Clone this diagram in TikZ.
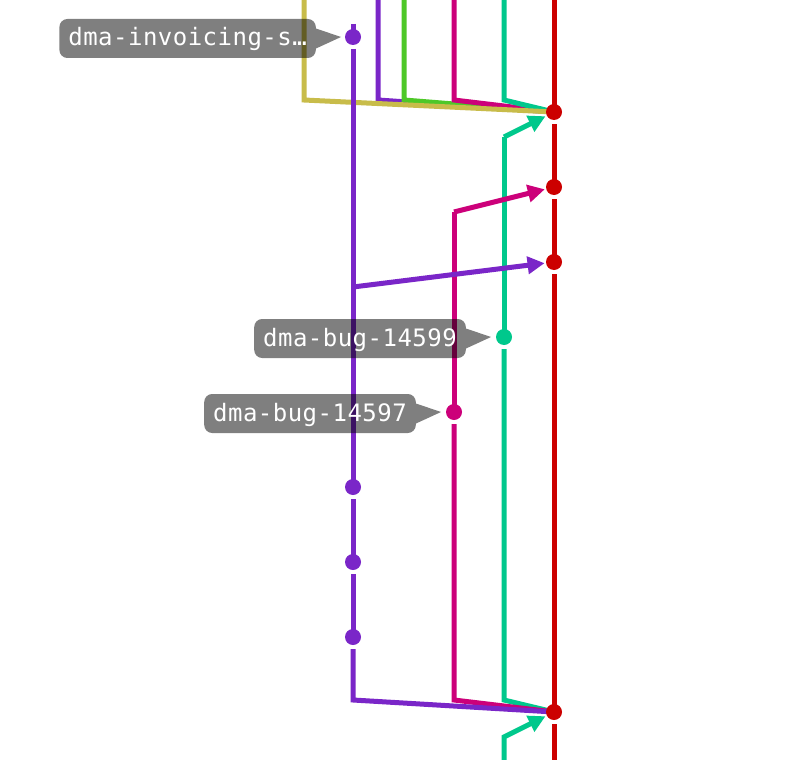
\documentclass[tikz,border=0pt]{standalone}
\usepackage{fontspec}
\newfontfamily\lblfont[LetterSpace=2]{DejaVu Sans Mono}
\usetikzlibrary{arrows.meta}
\definecolor{cred}{RGB}{204,0,0}
\definecolor{cpur}{RGB}{122,38,200}
\definecolor{cyel}{RGB}{200,188,74}
\definecolor{cgrn}{RGB}{78,200,40}
\definecolor{cmag}{RGB}{204,0,122}
\definecolor{cteal}{RGB}{0,200,140}
\begin{document}
\begin{tikzpicture}[x=1pt,y=-1pt,
  br/.style={line width=5pt,line join=miter},
  dotnode/.style={circle,fill=#1,inner sep=0pt,minimum size=16pt,outer sep=1.5pt},
  arr/.style={-{Triangle[length=17pt,width=17pt]}},
  lbl/.style={fill=black,fill opacity=0.5,text opacity=1,text=white,rounded corners=8pt,
    font=\lblfont\fontsize{24}{24}\selectfont,minimum height=39pt,inner xsep=9pt,inner ysep=0pt,
    text height=20pt,text depth=5pt,anchor=east},
  ptr/.style={fill=black,fill opacity=0.5,draw=none}
]
\useasboundingbox[fill=white] (0,0) rectangle (803,760);

% commit positions
\path
  (554,112) coordinate (r1) (554,187) coordinate (r2) (554,262) coordinate (r3) (554,712) coordinate (r4)
  (353,37) coordinate (p1) (353,487) coordinate (p2) (353,562) coordinate (p3) (353,637) coordinate (p4)
  (504,337) coordinate (t1) (454,412) coordinate (m1);

% free ends and corners
\coordinate (ytop) at (304,0);   \coordinate (ycor) at (304,100);
\coordinate (qtop) at (378,0);   \coordinate (qcor) at (378,100);
\coordinate (gtop) at (404,0);   \coordinate (gcor) at (404,100);
\coordinate (mtop) at (454,0);   \coordinate (mcor) at (454,100);
\coordinate (ttop) at (504,0);   \coordinate (tcor) at (504,100);
\coordinate (rtop) at (554,0);   \coordinate (rbot) at (554,760);
\coordinate (pstub) at (353,24);
\coordinate (tbend) at (504,137);
\coordinate (mbend) at (454,212);
\coordinate (pbend) at (353,287);
\coordinate (tlow) at (504,700);
\coordinate (mlow) at (454,700);
\coordinate (plow) at (353,700);
\coordinate (tbot) at (504,760);
\coordinate (tbend2) at (504,737);

% red lane
\draw[br,cred] (rtop) -- (r1);
\draw[br,cred] ([yshift=-12pt]r1) -- (r2);
\draw[br,cred] ([yshift=-12pt]r2) -- (r3);
\draw[br,cred] ([yshift=-12pt]r3) -- (r4);
\draw[br,cred] ([yshift=-12pt]r4) -- (rbot);

% branches merging into r1 from above
\draw[br,cpur] (qtop) -- (qcor) -- (r1);
\draw[br,cgrn] (gtop) -- (gcor) -- (r1);
\draw[br,cmag] (mtop) -- (mcor) -- (r1);
\draw[br,cteal] (ttop) -- (tcor) -- (r1);
\draw[br,cyel] (ytop) -- (ycor) -- (r1);

% purple lane
\draw[br,cpur] (pstub) -- (p1);
\draw[br,cpur] ([yshift=-12pt]p1) -- (p2);
\draw[br,cpur] ([yshift=-12pt]p2) -- (p3);
\draw[br,cpur] ([yshift=-12pt]p3) -- (p4);

% teal lane
\draw[br,cteal] (tbend) -- (t1);
\draw[br,cteal] ([yshift=-12pt]t1) -- (tlow) -- (r4);

% magenta lane
\draw[br,cmag] (mbend) -- (m1);
\draw[br,cmag] ([yshift=-12pt]m1) -- (mlow) -- (r4);

\draw[br,cpur] ([yshift=-12pt]p4) -- (plow) -- (r4);

% dots
\node[dotnode=cred] (R1) at (r1) {};
\node[dotnode=cred] (R2) at (r2) {};
\node[dotnode=cred] (R3) at (r3) {};
\node[dotnode=cred] (R4) at (r4) {};
\node[dotnode=cpur] (P1) at (p1) {};
\node[dotnode=cpur] (P2) at (p2) {};
\node[dotnode=cpur] (P3) at (p3) {};
\node[dotnode=cpur] (P4) at (p4) {};
\node[dotnode=cteal] (T1) at (t1) {};
\node[dotnode=cmag] (M1) at (m1) {};

% arrows toward red commits
\draw[br,cteal,arr] (tbend) -- (R1);
\draw[br,cmag,arr] (mbend) -- (R2);
\draw[br,cpur,arr] (pbend) -- (R3);
\draw[br,cteal,arr] (tbot) -- (tbend2) -- (R4);

% labels
\node[lbl] (L1) at (316,38.5) {dma-invoicing-s…};
\coordinate (L1tip) at (341,37);
\path[ptr] ([yshift=10pt]L1.east) -- (L1tip) -- ([yshift=-10pt]L1.east) -- cycle;

\node[lbl] (L2) at (466,338.5) {dma-bug-14599};
\coordinate (L2tip) at (491,337);
\path[ptr] ([yshift=10pt]L2.east) -- (L2tip) -- ([yshift=-10pt]L2.east) -- cycle;

\node[lbl] (L3) at (416,413.5) {dma-bug-14597};
\coordinate (L3tip) at (441,412);
\path[ptr] ([yshift=10pt]L3.east) -- (L3tip) -- ([yshift=-10pt]L3.east) -- cycle;
\end{tikzpicture}
\end{document}
